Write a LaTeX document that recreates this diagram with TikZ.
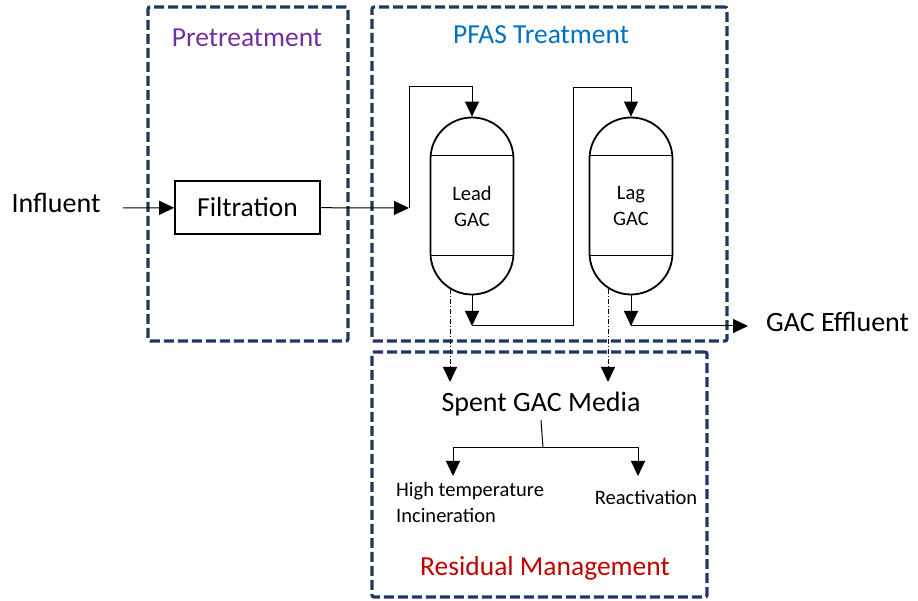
\documentclass[tikz,border=0pt]{standalone}
\usepackage{fontspec}
\setmainfont{Carlito}
\usepackage{tikz}
\usetikzlibrary{arrows.meta,positioning,calc}

\definecolor{zonenavy}{HTML}{1F3864}
\definecolor{pretxt}{HTML}{7030A0}
\definecolor{pfastxt}{HTML}{0070C0}
\definecolor{restxt}{HTML}{C00000}

\begin{document}
\begin{tikzpicture}[
  x=1pt, y=1pt,
  zone/.style={rectangle, draw=zonenavy, line width=3.2pt, dash pattern=on 10pt off 4pt, rounded corners=2pt, inner sep=0pt},
  title/.style={font=\fontsize{27.5}{32}\selectfont},
  label/.style={font=\fontsize{28}{32}\selectfont, inner sep=2pt},
  small/.style={font=\fontsize{20.5}{26}\selectfont, align=left, inner sep=1pt},
  filter/.style={rectangle, draw=black, line width=1.6pt, minimum width=145pt, minimum height=53pt, font=\fontsize{27.5}{32}\selectfont},
  vessel/.style={rectangle, draw=black, line width=1.8pt, rounded corners=41.5pt, minimum width=83pt, minimum height=177pt, align=center, font=\fontsize{20.5}{26}\selectfont},
  arrow/.style={-{Triangle[length=15pt, width=14pt]}, line width=1pt},
  spentline/.style={arrow, dash pattern=on 5pt off 2pt on 1pt off 2pt}
]
\useasboundingbox (0,0) rectangle (918,601);

% process zones
\node[zone, minimum width=200pt, minimum height=334pt] (pre) at (248,427) {};
\node[zone, minimum width=355pt, minimum height=334pt] (pfas) at (549.5,427) {};
\node[zone, minimum width=335pt, minimum height=245pt] (res) at (539.5,126.5) {};
\node[title, text=pretxt] (pretitle) at (247,563) {Pretreatment};
\node[title, text=pfastxt] (pfastitle) at (541,566) {PFAS Treatment};
\node[title, text=restxt] (restitle) at (545,33) {Residual Management};

% influent and filtration
\node[label] (infl) at (56,398) {Influent};
\coordinate (inflout) at (123,393);
\node[filter] (filt) at (247.5,393.5) {Filtration};
\draw[arrow] (inflout) -- (filt);

% GAC vessels
\node[vessel] (lead) at (472,395) {Lead\\GAC};
\node[vessel] (lag) at (631,395) {Lag\\GAC};
\foreach \v in {lead,lag} {
  \draw[line width=1pt] ([yshift=-39pt]\v.north west) -- ([yshift=-39pt]\v.north east);
  \draw[line width=1pt] ([yshift=40pt]\v.south west) -- ([yshift=40pt]\v.south east);
}

\coordinate (leadin) at (409,393);
\coordinate (riser) at (573,513);
\coordinate (leadout) at (472,275);
\coordinate (lagout) at (631,275);
\draw[arrow] (filt) -- (leadin);
\draw[arrow] (leadin) |- ($(lead.north)+(0,30)$) -- (lead.north);
\draw[arrow] (lead.south) -- (leadout);
\draw[arrow] (leadout) -| (riser) -| (lag.north);
\draw[arrow] (lag.south) -- (lagout);

\node[label, anchor=west] (effl) at (764,279) {GAC Effluent};
\draw[arrow] (lagout) -- ([xshift=-16pt]lagout -| effl.west);

% residuals
\node[label] (spent) at (541,197) {Spent GAC Media};
\coordinate (leadspent) at (450,219);
\coordinate (lagspent) at (608,219);
\draw[spentline] ($(lead.south)+(-22,6)$) -- (leadspent);
\draw[spentline] ($(lag.south)+(-23,6)$) -- (lagspent);

\coordinate (split) at (543,153);
\coordinate (incintip) at (453,125);
\coordinate (reacttip) at (638,125);
\draw[line width=1pt] ([yshift=-2pt]spent.south) -- (split);
\draw[arrow] (split) -| (incintip);
\draw[arrow] (split) -| (reacttip);

\node[small, anchor=north west] (incin) at (395,120) {High temperature\\Incineration};
\node[small] (react) at (646,104) {Reactivation};
\end{tikzpicture}
\end{document}
